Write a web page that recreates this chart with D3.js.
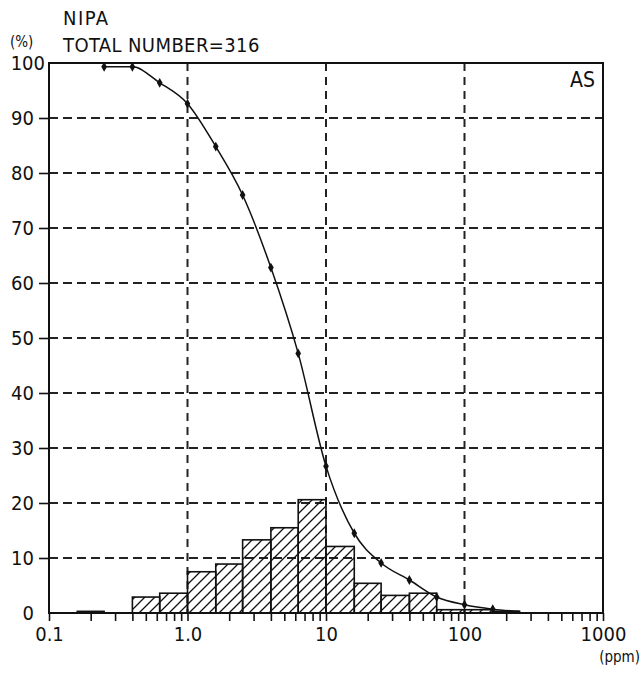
<!DOCTYPE html>
<html>
<head>
<meta charset="utf-8">
<script src="https://cdn.jsdelivr.net/npm/d3@7"></script>
<style>
  body { margin: 0; background: #fff; }
  text { font-family: "Liberation Sans Narrow", "DejaVu Sans Condensed", "Liberation Sans", sans-serif; fill: #111; }
</style>
</head>
<body>
<div id="chart"></div>
<script>
// histogram bins: lower/upper edge (ppm) and share of samples (%)
const binLow  = [0.16, 0.25, 0.4, 0.63, 1.0, 1.6, 2.5, 4.0, 6.3, 10, 16, 25, 40, 63, 100, 160];
const binHigh = [0.25, 0.4, 0.63, 1.0, 1.6, 2.5, 4.0, 6.3, 10, 16, 25, 40, 63, 100, 160, 250];
const binPct  = [0.3, 0, 2.9, 3.6, 7.5, 8.9, 13.3, 15.5, 20.6, 12.1, 5.4, 3.2, 3.6, 0.6, 0.6, 0.3];

// cumulative curve (% of samples at or above x)
const cumX = [0.25, 0.4, 0.63, 1.0, 1.6, 2.5, 4.0, 6.3, 10, 16, 25, 40, 63, 100, 160, 250];
const cumY = [99.3, 99.3, 96.4, 92.6, 84.8, 76.0, 62.8, 47.2, 26.7, 14.5, 9.1, 6.0, 2.9, 1.5, 0.7, 0.3];
const cumMarked = 15; // first 15 points carry a marker

const yTicks = [0, 10, 20, 30, 40, 50, 60, 70, 80, 90, 100];
const xMajor = [0.1, 1, 10, 100, 1000];
const xMajorLabels = ["0.1", "1.0", "10", "100", "1000"];
const xGrid = [1, 10, 100];

const W = 644, H = 678;
const margin = { top: 63, right: 41, bottom: 65, left: 49 };
const width = W - margin.left - margin.right;
const height = H - margin.top - margin.bottom;

const svg = d3.select("#chart").append("svg")
  .attr("width", W)
  .attr("height", H);

// hatch pattern for the bars
const defs = svg.append("defs");
const pat = defs.append("pattern")
  .attr("id", "hatch")
  .attr("patternUnits", "userSpaceOnUse")
  .attr("width", 10)
  .attr("height", 10);
pat.append("path")
  .attr("d", "M-2,12 L12,-2 M-2,2 L2,-2 M8,12 L12,8")
  .attr("stroke", "#111")
  .attr("stroke-width", 1.3);

const g = svg.append("g")
  .attr("transform", "translate(" + margin.left + "," + margin.top + ")");

const x = d3.scaleLog().domain([0.1, 1000]).range([0, width]);
const y = d3.scaleLinear().domain([0, 100]).range([height, 0]);

// dashed grid
g.append("g").selectAll("line")
  .data(yTicks.filter(d => d > 0 && d < 100))
  .join("line")
  .attr("x1", 0).attr("x2", width)
  .attr("y1", d => y(d)).attr("y2", d => y(d))
  .attr("stroke", "#222")
  .attr("stroke-width", 1.8)
  .attr("stroke-dasharray", "9,5");

g.append("g").selectAll("line")
  .data(xGrid)
  .join("line")
  .attr("x1", d => x(d)).attr("x2", d => x(d))
  .attr("y1", 0).attr("y2", height)
  .attr("stroke", "#222")
  .attr("stroke-width", 2)
  .attr("stroke-dasharray", "8,6");

// bars
const bins = binLow.map((lo, i) => ({ lo: lo, hi: binHigh[i], v: binPct[i] }));
g.append("g").selectAll("rect")
  .data(bins.filter(d => d.v > 0))
  .join("rect")
  .attr("x", d => x(d.lo))
  .attr("y", d => y(d.v))
  .attr("width", d => x(d.hi) - x(d.lo))
  .attr("height", d => height - y(d.v))
  .attr("fill", "url(#hatch)")
  .attr("stroke", "#111")
  .attr("stroke-width", 1.6);

// cumulative curve
const pts = cumX.map((v, i) => [v, cumY[i]]);
const line = d3.line()
  .x(d => x(d[0]))
  .y(d => y(d[1]))
  .curve(d3.curveMonotoneX);
g.append("path")
  .datum(pts)
  .attr("d", line)
  .attr("fill", "none")
  .attr("stroke", "#111")
  .attr("stroke-width", 1.5);

g.append("g").selectAll("path")
  .data(pts.slice(0, cumMarked))
  .join("path")
  .attr("transform", d => "translate(" + x(d[0]) + "," + y(d[1]) + ")")
  .attr("d", d3.symbol().type(d3.symbolDiamond).size(28))
  .attr("fill", "#111");

// x axis ticks: minor ticks in every decade
const xTickVals = [];
for (let e = -1; e < 3; e++) {
  for (let k = 1; k < 10; k++) xTickVals.push(k * Math.pow(10, e));
}
xTickVals.push(1000);

const xAxis = g.append("g")
  .attr("transform", "translate(0," + height + ")")
  .call(d3.axisBottom(x)
    .tickValues(xTickVals)
    .tickSize(8)
    .tickPadding(6)
    .tickFormat(d => {
      const i = xMajor.findIndex(m => Math.abs(m - d) < 1e-9);
      return i >= 0 ? xMajorLabels[i] : "";
    }));
xAxis.select(".domain").remove();
xAxis.selectAll("line").attr("stroke", "#111").attr("stroke-width", 1.6);
xAxis.selectAll("text").attr("font-size", 20).attr("fill", "#111");

// y axis
const yAxis = g.append("g")
  .call(d3.axisLeft(y)
    .tickValues(yTicks)
    .tickSize(10)
    .tickPadding(5));
yAxis.select(".domain").remove();
yAxis.selectAll("line").attr("stroke", "#111").attr("stroke-width", 1.6);
yAxis.selectAll("text").attr("font-size", 20).attr("fill", "#111");
yAxis.selectAll(".tick").filter(d => d === 100 || d === 0).select("line").remove();
yAxis.selectAll(".tick").filter(d => d === 100).select("text").attr("x", -4);

// frame
g.append("rect")
  .attr("width", width)
  .attr("height", height)
  .attr("fill", "none")
  .attr("stroke", "#111")
  .attr("stroke-width", 2);

// titles and labels
svg.append("text").attr("x", 63).attr("y", 25).attr("font-size", 20).attr("letter-spacing", 1.5).text("NIPA");
svg.append("text").attr("x", 63).attr("y", 52).attr("font-size", 20).attr("letter-spacing", 0.4).text("TOTAL NUMBER=316");
svg.append("text").attr("x", 10).attr("y", 47).attr("font-size", 15).text("(%)");
svg.append("text").attr("x", margin.left + width - 8).attr("y", margin.top + 24)
  .attr("text-anchor", "end").attr("font-size", 21).text("AS");
svg.append("text").attr("x", 640).attr("y", 662)
  .attr("text-anchor", "end").attr("font-size", 15).text("(ppm)");
</script>
</body>
</html>
